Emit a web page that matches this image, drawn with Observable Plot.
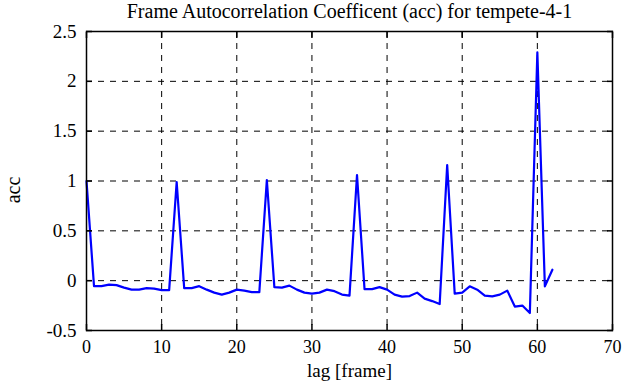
<!DOCTYPE html>
<html><head><meta charset="utf-8">
<script src="https://cdn.jsdelivr.net/npm/d3@7"></script>
<script src="https://cdn.jsdelivr.net/npm/@observablehq/plot@0.6"></script>
<style>body{margin:0;background:#fff} svg text{font-family:"Liberation Serif",serif !important}</style>
</head><body><div id="chart"></div>
<script>
const titleText = "Frame Autocorrelation Coefficent (acc) for tempete-4-1";
const xLabel = "lag [frame]";
const yLabel = "acc";
const lags = [0,1,2,3,4,5,6,7,8,9,10,11,12,13,14,15,16,17,18,19,20,21,22,23,24,25,26,27,28,29,30,31,32,33,34,35,36,37,38,39,40,41,42,43,44,45,46,47,48,49,50,51,52,53,54,55,56,57,58,59,60,61,62];
const acc = [1.0,-0.055,-0.055,-0.04,-0.045,-0.07,-0.09,-0.09,-0.075,-0.08,-0.095,-0.095,
  0.99,-0.075,-0.075,-0.055,-0.09,-0.12,-0.14,-0.12,-0.09,-0.10,-0.115,-0.115,
  1.01,-0.065,-0.07,-0.05,-0.09,-0.12,-0.13,-0.12,-0.09,-0.105,-0.14,-0.15,
  1.06,-0.085,-0.085,-0.065,-0.09,-0.14,-0.16,-0.155,-0.12,-0.18,-0.205,-0.235,
  1.16,-0.13,-0.12,-0.057,-0.09,-0.15,-0.157,-0.14,-0.10,-0.26,-0.25,-0.325,
  2.29,-0.057,0.11];
const xTicks = [0,10,20,30,40,50,60,70];
const yTicks = [-0.5,0,0.5,1,1.5,2,2.5];

const data = lags.map((l,i) => ({lag: l, acc: acc[i]}));
const fmt = d => String(d);
const font = "Liberation Serif";

const chart = Plot.plot({
  width: 630, height: 387,
  marginLeft: 86, marginRight: 18, marginTop: 31, marginBottom: 57,
  style: {fontFamily: font, fontSize: "18px", color: "black", background: "white"},
  x: {domain: [0,70]},
  y: {domain: [-0.5,2.5]},
  marks: [
    Plot.gridX(xTicks.slice(1,-1), {stroke: "black", strokeOpacity: 1, strokeDasharray: "6,6"}),
    Plot.gridY(yTicks.slice(1,-1), {stroke: "black", strokeOpacity: 1, strokeDasharray: "6,6"}),
    Plot.line(data, {x: "lag", y: "acc", stroke: "blue", strokeWidth: 2.2}),
    Plot.frame({stroke: "black", strokeWidth: 1.5}),
    Plot.axisX(xTicks, {anchor: "bottom", tickSize: 0, tickPadding: 10, tickFormat: fmt, label: null, fontSize: 18, fontFamily: font}),
    Plot.axisY(yTicks, {anchor: "left", tickSize: 0, tickPadding: 10, tickFormat: fmt, label: null, fontSize: 19, fontFamily: font}),
    Plot.axisX(xTicks, {anchor: "bottom", tickSize: -6, tickFormat: () => "", label: null, strokeWidth: 1.5}),
    Plot.axisX(xTicks, {anchor: "top", tickSize: -6, tickFormat: () => "", label: null, strokeWidth: 1.5}),
    Plot.axisY(yTicks, {anchor: "left", tickSize: -6, tickFormat: () => "", label: null, strokeWidth: 1.5}),
    Plot.axisY(yTicks, {anchor: "right", tickSize: -6, tickFormat: () => "", label: null, strokeWidth: 1.5}),
    Plot.text([titleText], {frameAnchor: "top", lineAnchor: "middle", dy: -20, fontSize: 20, fontFamily: font, fill: "black"}),
    Plot.text([xLabel], {frameAnchor: "bottom", lineAnchor: "middle", dy: 40, fontSize: 19, fontFamily: font, fill: "black"}),
    Plot.text([yLabel], {frameAnchor: "left", textAnchor: "middle", lineAnchor: "middle", dx: -73, dy: 9, rotate: -90, fontSize: 20, fontFamily: font, fill: "black"})
  ]
});
document.getElementById("chart").appendChild(chart);
</script>
</body></html>
